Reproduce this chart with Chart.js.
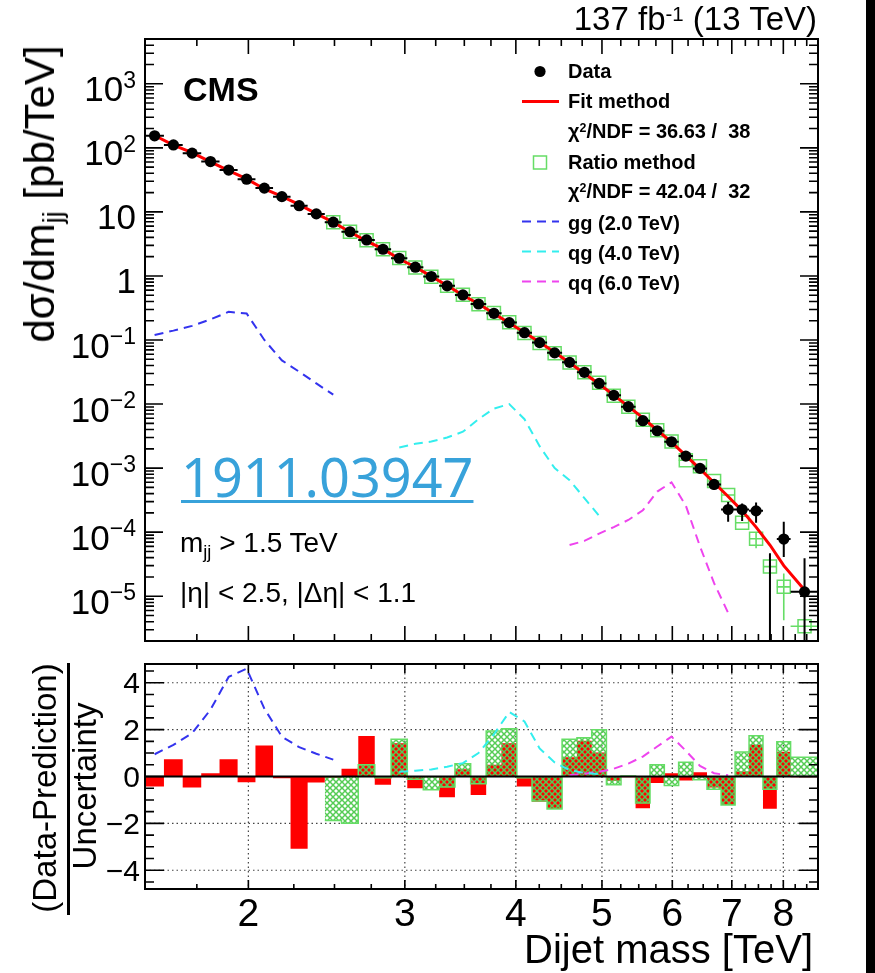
<!DOCTYPE html>
<html>
<head>
<meta charset="utf-8">
<script src="https://cdn.jsdelivr.net/npm/chart.js@4.4.1/dist/chart.umd.min.js"></script>
<style>
  body { margin: 0; background: #fff; }
  #page { position: relative; width: 875px; height: 973px; overflow: hidden; background: #fff;
          font-family: "Liberation Sans", Arial, Helvetica, sans-serif; color: #000; }
  canvas { position: absolute; left: 0; }
  #spectrum { top: 0; }
  #pulls { top: 650px; }
  .lbl { position: absolute; white-space: nowrap; line-height: 1; }
  .sup { position: relative; top: -0.45em; font-size: 0.62em; }
  .sub { position: relative; top: 0.3em; font-size: 0.65em; }
  #edge { position: absolute; left: 866px; top: 0; width: 9px; height: 973px; background: #000; }
  #fracbar { position: absolute; left: 67px; top: 663px; width: 2.5px; height: 252px; background: #000; }
</style>
</head>
<body>
<div id="page">
  <canvas id="spectrum" width="875" height="650"></canvas>
  <canvas id="pulls" width="875" height="323"></canvas>
  <div id="fracbar"></div>
  <div id="edge"></div>
</div>
<script>
// bin edges of the dijet mass spectrum [TeV] (last two bins merged)
const massEdges = [1.530, 1.607, 1.687, 1.770, 1.856, 1.945, 2.037, 2.132, 2.231, 2.332,
  2.438, 2.546, 2.659, 2.775, 2.895, 3.019, 3.147, 3.279, 3.416, 3.558, 3.704, 3.854,
  4.010, 4.171, 4.337, 4.509, 4.686, 4.869, 5.058, 5.253, 5.455, 5.663, 5.877, 6.099,
  6.328, 6.564, 6.808, 7.060, 7.320, 7.589, 7.866, 8.152, 8.752];
const massCentre = massEdges.slice(0, -1).map((e, i) => (e + massEdges[i + 1]) / 2);

// dsigma/dm [pb/TeV], one per bin (null = no events)
const dataXsec = [154, 111, 82.6, 61, 45, 32.4, 23.5, 17.3, 12.5, 9.3,
  6.9, 4.9, 3.65, 2.61, 1.89, 1.37, 0.98, 0.70, 0.505, 0.365,
  0.261, 0.187, 0.130, 0.091, 0.063, 0.0448, 0.0313, 0.021, 0.0137, 0.0091,
  0.0055, 0.00383, 0.00258, 0.00154, 0.00099, 5.56e-4, 2.26e-4, 2.26e-4, 2.15e-4, null,
  7.8e-5, 1.17e-5];
const fitXsec = [156, 110, 84, 60.5, 44, 32.7, 22.8, 17.4, 13.0, 9.4,
  6.9, 4.85, 3.5, 2.64, 1.84, 1.38, 0.985, 0.71, 0.50, 0.368,
  0.259, 0.184, 0.131, 0.0925, 0.0645, 0.0442, 0.0300, 0.0206, 0.0138, 0.0092,
  0.0061, 0.0039, 0.00255, 0.00157, 0.00097, 5.9e-4, 3.6e-4, 2.15e-4, 1.2e-4, 6.3e-5,
  3.0e-5, 1.25e-5];
// ratio method prediction starts at bin 11
const ratioFirstBin = 10;
const ratioXsec = [6.9, 4.9, 3.6, 2.6, 1.9, 1.36, 0.975, 0.70, 0.51, 0.36,
  0.265, 0.19, 0.129, 0.09, 0.062, 0.0445, 0.0315, 0.0215, 0.0135, 0.0091,
  0.0057, 0.0039, 0.0026, 1.33e-3, 1.07e-3, 6.3e-4, 3.8e-4, 1.4e-4, 7.9e-5, 2.9e-5,
  1.4e-5, 3.4e-6];

// visible vertical error bars in the tail (bins 36..42)
const tailFirstBin = 35;
const dataErrUp = [6.5e-4, 2.97e-4, 2.8e-4, 2.9e-4, 4.7e-5, 1.45e-4, 3.9e-5];
const dataErrDown = [4.6e-4, 1.45e-4, 1.5e-4, 1.4e-4, 1e-7, 4.1e-5, 1e-7];
const ratioErrUp = [null, null, null, 1.0e-4, null, 2.26e-5, null];
const ratioErrDown = [null, null, null, 5.6e-5, null, 4.2e-6, null];

// signal shapes
const ggFirstBin = 0, qgFirstBin = 14, qqFirstBin = 25;
const ggXsec = [0.12, 0.14, 0.166, 0.21, 0.275, 0.26, 0.10, 0.048, 0.032, 0.021, 0.014];
const qgXsec = [0.0021, 0.0024, 0.0026, 0.0030, 0.0037, 0.0058, 0.0085, 0.0100, 0.0058, 0.0022,
  0.0010, 0.00065, 0.00034, 0.00018];
const qqXsec = [6.3e-5, 7.3e-5, 9.5e-5, 1.2e-4, 1.55e-4, 2.2e-4, 4.3e-4, 6.0e-4, 2.6e-4, 6.0e-5,
  1.6e-5, 5.5e-6];

// (data - prediction) / uncertainty
const fitPull = [-0.43, 0.74, -0.47, 0.14, 0.74, -0.24, 1.32, -0.07, -3.08, -0.26,
  -0.05, 0.33, 1.73, -0.35, 1.42, -0.5, -0.03, -0.88, 0.31, -0.79,
  0.5, 1.42, -0.43, -1.08, -1.39, 0.82, 1.53, 1.02, -0.18, -0.03,
  -1.35, -0.28, 0.14, -0.17, 0.18, -0.47, -1.22, 0.21, 1.35, -1.38,
  1.06, -0.03];
const ratioPull = [-1.88, -1.99, 0.5, -0.05, 1.59, -0.12, -0.57, -0.45, 0.54, -0.31,
  1.94, 2.04, -0.05, -1.05, -1.39, 1.59, 1.65, 1.99, -0.35, 0.02,
  -1.13, 0.5, -0.38, 0.61, -0.14, -0.54, -1.22, 1.05, 1.74, -0.54,
  1.48, 0.82];
const ggPull = [0.95, 1.35, 1.85, 2.85, 4.25, 4.6, 2.9, 1.7, 1.25, 0.97, 0.72];
const qgPull = [0.2, 0.25, 0.3, 0.42, 0.57, 1.0, 1.8, 2.75, 2.35, 1.2, 0.6, 0.27, 0.15, 0.1];
const qqPull = [0.05, 0.12, 0.2, 0.33, 0.55, 0.85, 1.28, 1.7, 1.1, 0.45, 0.14, 0.05];

// axis labels
const massTickLabels = [2, 3, 4, 5, 6, 7, 8];
const xsecDecades = [-5, -4, -3, -2, -1, 0, 1, 2, 3];
const pullTickLabels = [-4, -2, 0, 2, 4];

const ROOT_FONT = '"Liberation Sans", Arial, Helvetica, sans-serif';
const GREEN = '#66dd66';

function binPoints(values, first) {
  return values.map((v, k) => ({ x: massCentre[first + k], y: v }));
}
// histogram outline for stepped lines: one point per lower edge + closing edge
function histPoints(values, first) {
  const pts = values.map((v, k) => ({ x: massEdges[first + k], y: v }));
  pts.push({ x: massEdges[first + values.length], y: values[values.length - 1] });
  return pts;
}
// ticks every 0.25 TeV, major on integers
function massTicks(min, max) {
  const out = [];
  for (let q = 4; q <= 40; q++) {
    const v = q / 4;
    if (v >= min && v <= max) out.push({ v, major: q % 4 === 0 });
  }
  return out;
}
function logTicks(min, max) {
  const out = [];
  for (let e = Math.floor(Math.log10(min)); e <= Math.ceil(Math.log10(max)); e++) {
    for (let k = 1; k < 10; k++) {
      const v = k * Math.pow(10, e);
      if (v >= min && v <= max) out.push({ v, major: k === 1 });
    }
  }
  return out;
}

function drawBinErrors(chart, values, first, up, down, color, width) {
  const { ctx, chartArea: a, scales: { x, y } } = chart;
  ctx.save();
  ctx.beginPath();
  ctx.rect(a.left, a.top, a.right - a.left, a.bottom - a.top);
  ctx.clip();
  ctx.strokeStyle = color;
  ctx.lineWidth = width;
  ctx.beginPath();
  values.forEach((v, k) => {
    const i = first + k;
    if (v !== null) {
      const py = y.getPixelForValue(v);
      ctx.moveTo(x.getPixelForValue(massEdges[i]), py);
      ctx.lineTo(x.getPixelForValue(massEdges[i + 1]), py);
    }
    const t = i - tailFirstBin;
    if (t >= 0 && up[t] != null) {
      const xc = x.getPixelForValue(massCentre[i]);
      ctx.moveTo(xc, y.getPixelForValue(up[t]));
      ctx.lineTo(xc, y.getPixelForValue(down[t]));
    }
  });
  ctx.stroke();
  ctx.restore();
}

function hatch(color) {
  const c = document.createElement('canvas');
  c.width = c.height = 6;
  const g = c.getContext('2d');
  g.strokeStyle = color;
  g.lineWidth = 1.5;
  g.beginPath();
  g.moveTo(-1, -1); g.lineTo(7, 7);
  g.moveTo(7, -1); g.lineTo(-1, 7);
  g.stroke();
  return g.createPattern(c, 'repeat');
}

// ---------- upper panel ----------
const spectrumFrame = {
  id: 'spectrumFrame',
  beforeDatasetDraw(chart, args) {
    if (args.index === 0) drawBinErrors(chart, dataXsec, 0, dataErrUp, dataErrDown, '#000', 2);
    if (args.index === 2) drawBinErrors(chart, ratioXsec, ratioFirstBin, ratioErrUp, ratioErrDown, GREEN, 1.6);
  },
  afterDraw(chart) {
    const { ctx, chartArea: a, scales: { x, y } } = chart;
    ctx.save();
    ctx.strokeStyle = '#000';
    ctx.lineWidth = 1.6;
    ctx.beginPath();
    massTicks(x.min, x.max).forEach(t => {
      const px = x.getPixelForValue(t.v), l = t.major ? 15 : 7;
      ctx.moveTo(px, a.bottom); ctx.lineTo(px, a.bottom - l);
      ctx.moveTo(px, a.top); ctx.lineTo(px, a.top + l);
    });
    logTicks(y.min, y.max).forEach(t => {
      const py = y.getPixelForValue(t.v), l = t.major ? 18 : 9;
      ctx.moveTo(a.left, py); ctx.lineTo(a.left + l, py);
      ctx.moveTo(a.right, py); ctx.lineTo(a.right - l, py);
    });
    ctx.stroke();
    ctx.lineWidth = 2;
    ctx.strokeRect(a.left, a.top, a.right - a.left, a.bottom - a.top);

    // 10^n labels
    ctx.fillStyle = '#000';
    ctx.textAlign = 'left';
    ctx.textBaseline = 'alphabetic';
    xsecDecades.forEach(n => {
      const py = y.getPixelForValue(Math.pow(10, n));
      const base = n === 0 ? '1' : '10';
      const sup = (n === 0 || n === 1) ? '' : (n < 0 ? '\u2212' + (-n) : String(n));
      ctx.font = '23px ' + ROOT_FONT;
      const ws = sup ? ctx.measureText(sup).width : 0;
      ctx.font = '35px ' + ROOT_FONT;
      const wb = ctx.measureText(base).width;
      const right = 136;
      ctx.fillText(base, right - ws - wb, py + 17.5);
      if (sup) {
        ctx.font = '23px ' + ROOT_FONT;
        ctx.fillText(sup, right - ws, py + 4);
      }
    });

    // legend symbols
    ctx.fillStyle = '#000';
    ctx.beginPath(); ctx.arc(540, 71.5, 5.6, 0, Math.PI * 2); ctx.fill();
    ctx.strokeStyle = '#ff0000'; ctx.lineWidth = 3;
    ctx.beginPath(); ctx.moveTo(522, 101.5); ctx.lineTo(559, 101.5); ctx.stroke();
    ctx.strokeStyle = GREEN; ctx.lineWidth = 1.5;
    ctx.strokeRect(533.5, 156, 13, 13);
    [['#3333ee', 221.5], ['#33eeee', 251.5], ['#ee44ee', 281.5]].forEach(([c, ly]) => {
      ctx.strokeStyle = c; ctx.lineWidth = 2; ctx.setLineDash([9, 6]);
      ctx.beginPath(); ctx.moveTo(522, ly); ctx.lineTo(559, ly); ctx.stroke();
    });
    ctx.restore();
  }
};

new Chart(document.getElementById('spectrum'), {
  type: 'line',
  data: {
    datasets: [
      { label: 'Data', data: binPoints(dataXsec, 0), showLine: false,
        pointRadius: 5.6, pointBackgroundColor: '#000', pointBorderWidth: 0, order: 0 },
      { label: 'Fit method', data: binPoints(fitXsec, 0), borderColor: '#ff0000',
        borderWidth: 3, pointRadius: 0, order: 1 },
      { label: 'Ratio method', data: binPoints(ratioXsec, ratioFirstBin), showLine: false,
        pointStyle: 'rect', pointRadius: 9.2, pointBorderColor: GREEN, pointBorderWidth: 1.5,
        pointBackgroundColor: 'rgba(0,0,0,0)', order: 2 },
      { label: 'gg (2.0 TeV)', data: binPoints(ggXsec, ggFirstBin), borderColor: '#3333ee',
        borderWidth: 2, borderDash: [9, 6], pointRadius: 0, order: 3 },
      { label: 'qg (4.0 TeV)', data: binPoints(qgXsec, qgFirstBin), borderColor: '#33eeee',
        borderWidth: 2, borderDash: [9, 6], pointRadius: 0, order: 3 },
      { label: 'qq (6.0 TeV)', data: binPoints(qqXsec, qqFirstBin), borderColor: '#ee44ee',
        borderWidth: 2, borderDash: [9, 6], pointRadius: 0, order: 3 }
    ]
  },
  options: {
    responsive: false,
    animation: false,
    events: [],
    layout: { autoPadding: false, padding: { left: 145, right: 57, top: 39, bottom: 9 } },
    plugins: { legend: { display: false }, tooltip: { enabled: false } },
    scales: {
      x: { type: 'logarithmic', min: 1.53, max: 8.752, display: false },
      y: { type: 'logarithmic', min: 2e-6, max: 5e3, display: false }
    }
  },
  plugins: [spectrumFrame]
});

// ---------- lower panel ----------
const pullFrame = {
  id: 'pullFrame',
  beforeDatasetsDraw(chart) {
    const { ctx, chartArea: a, scales: { x, y } } = chart;
    ctx.save();
    ctx.strokeStyle = '#444';
    ctx.lineWidth = 1.2;
    ctx.setLineDash([1.5, 3]);
    ctx.beginPath();
    pullTickLabels.filter(v => v !== 0).forEach(v => {
      const py = y.getPixelForValue(v);
      ctx.moveTo(a.left, py); ctx.lineTo(a.right, py);
    });
    massTickLabels.forEach(v => {
      const px = x.getPixelForValue(v);
      ctx.moveTo(px, a.top); ctx.lineTo(px, a.bottom);
    });
    ctx.stroke();
    ctx.restore();
  },
  afterDraw(chart) {
    const { ctx, chartArea: a, scales: { x, y } } = chart;
    ctx.save();
    ctx.strokeStyle = '#000';
    ctx.lineWidth = 2;
    const y0 = y.getPixelForValue(0);
    ctx.beginPath(); ctx.moveTo(a.left, y0); ctx.lineTo(a.right, y0); ctx.stroke();

    ctx.lineWidth = 1.6;
    ctx.beginPath();
    massTicks(x.min, x.max).forEach(t => {
      const px = x.getPixelForValue(t.v), l = t.major ? 9 : 5;
      ctx.moveTo(px, a.bottom); ctx.lineTo(px, a.bottom - l);
      ctx.moveTo(px, a.top); ctx.lineTo(px, a.top + l);
    });
    for (let q = -9; q <= 9; q++) {
      const py = y.getPixelForValue(q / 2), l = q % 4 === 0 ? 19 : 9;
      ctx.moveTo(a.left, py); ctx.lineTo(a.left + l, py);
      ctx.moveTo(a.right, py); ctx.lineTo(a.right - l, py);
    }
    ctx.stroke();
    ctx.lineWidth = 2;
    ctx.strokeRect(a.left, a.top, a.right - a.left, a.bottom - a.top);

    ctx.fillStyle = '#000';
    ctx.textBaseline = 'alphabetic';
    ctx.font = '39px ' + ROOT_FONT;
    ctx.textAlign = 'center';
    massTickLabels.forEach(v => ctx.fillText(String(v), x.getPixelForValue(v), 276));
    ctx.font = '30px ' + ROOT_FONT;
    ctx.textAlign = 'right';
    pullTickLabels.forEach(v => {
      const s = v < 0 ? '\u2212' + (-v) : String(v);
      ctx.fillText(s, 140, y.getPixelForValue(v) + 10.5);
    });
    ctx.restore();
  }
};

const pullCanvas = document.getElementById('pulls');
new Chart(pullCanvas, {
  type: 'line',
  data: {
    datasets: [
      { label: 'Fit method', data: histPoints(fitPull, 0), stepped: true, fill: 'origin',
        backgroundColor: '#ff0000', borderColor: 'rgba(0,0,0,0)', borderWidth: 1,
        pointRadius: 0, order: 3 },
      { label: 'Ratio method', data: histPoints(ratioPull, ratioFirstBin), stepped: true,
        fill: 'origin', backgroundColor: hatch('#55cc55'), borderColor: GREEN, borderWidth: 1.5,
        pointRadius: 0, order: 2 },
      { label: 'gg', data: binPoints(ggPull, ggFirstBin), borderColor: '#3333ee', borderWidth: 2,
        borderDash: [9, 6], pointRadius: 0, order: 1 },
      { label: 'qg', data: binPoints(qgPull, qgFirstBin), borderColor: '#33eeee', borderWidth: 2,
        borderDash: [9, 6], pointRadius: 0, order: 1 },
      { label: 'qq', data: binPoints(qqPull, qqFirstBin), borderColor: '#ee44ee', borderWidth: 2,
        borderDash: [9, 6], pointRadius: 0, order: 1 }
    ]
  },
  options: {
    responsive: false,
    animation: false,
    events: [],
    layout: { autoPadding: false, padding: { left: 145, right: 57, top: 14, bottom: 84 } },
    plugins: { legend: { display: false }, tooltip: { enabled: false } },
    scales: {
      x: { type: 'logarithmic', min: 1.53, max: 8.752, display: false },
      y: { type: 'linear', min: -4.8, max: 4.8, display: false }
    }
  },
  plugins: [pullFrame]
});

// ---------- text ----------
const page = document.getElementById('page');
function addText(html, x, y, size, opt = {}) {
  const d = document.createElement('div');
  d.className = 'lbl';
  d.innerHTML = html;
  d.style.fontSize = size + 'px';
  if (opt.bold) d.style.fontWeight = 'bold';
  if (opt.font) d.style.fontFamily = opt.font;
  if (opt.color) d.style.color = opt.color;
  const asc = (opt.asc || 0.8465) * size;
  if (opt.rotate) {
    // x = baseline position, y = centre of the text
    d.style.left = (x - asc) + 'px';
    d.style.top = y + 'px';
    d.style.transformOrigin = '0 0';
    d.style.transform = 'rotate(-90deg) translateX(-50%)';
  } else {
    d.style.top = (y - asc) + 'px';
    d.style.left = x + 'px';
    if (opt.align === 'right') d.style.transform = 'translateX(-100%)';
  }
  page.appendChild(d);
  return d;
}

addText('137 fb<span class="sup">-1</span> (13 TeV)', 817, 30, 33, { align: 'right' });
addText('d\u03c3/dm<span class="sub">jj</span> [pb/TeV]', 55, 194, 42, { rotate: true });
addText('CMS', 183, 101, 34, { bold: true });

const legendRows = ['Data', 'Fit method', '\u03c7<span class="sup">2</span>/NDF = 36.63 / &nbsp;38',
  'Ratio method', '\u03c7<span class="sup">2</span>/NDF = 42.04 / &nbsp;32',
  'gg (2.0 TeV)', 'qg (4.0 TeV)', 'qq (6.0 TeV)'];
const legendBase = [78, 107.5, 138, 168.5, 198, 230, 260, 290];
legendRows.forEach((t, i) => addText(t, 568, legendBase[i], 20, { bold: true }));

const link = addText('1911.03947', 181, 497, 54,
  { font: '"Noto Sans", sans-serif', color: '#38a2da', asc: 0.888 });
link.style.textDecoration = 'underline';
link.style.textDecorationThickness = '2.5px';
link.style.textUnderlineOffset = '3px';

addText('m<span class="sub">jj</span> &gt; 1.5 TeV', 180, 553, 28);
addText('|\u03b7| &lt; 2.5, |\u0394\u03b7| &lt; 1.1', 180, 603, 28);

addText('Dijet mass [TeV]', 813, 963, 40, { align: 'right' });
addText('(Data-Prediction)', 56, 788, 33, { rotate: true });
addText('Uncertainty', 96, 786, 33, { rotate: true });
</script>
</body>
</html>
